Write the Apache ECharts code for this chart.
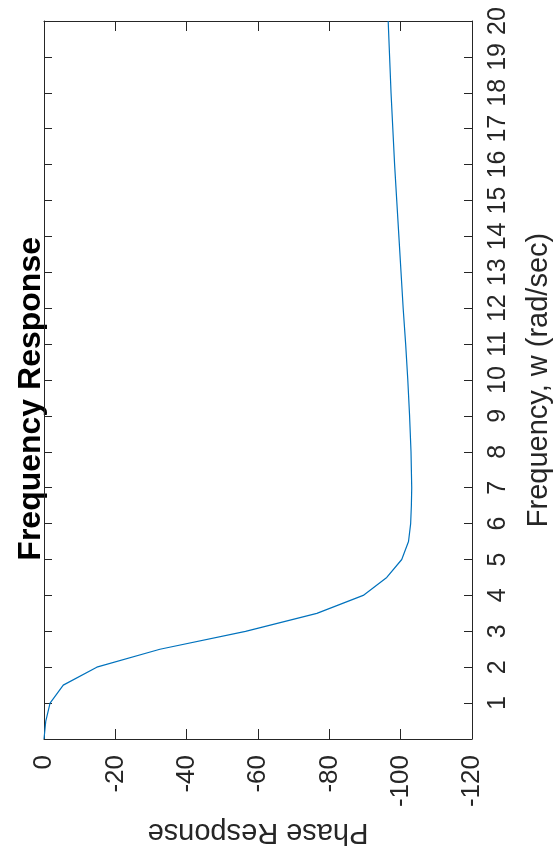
<!DOCTYPE html>
<html>
<head>
<meta charset="utf-8">
<script src="https://cdn.jsdelivr.net/npm/echarts@6/dist/echarts.min.js"></script>
<style>
html,body{margin:0;padding:0;background:#fff;}
#chart{width:557px;height:852px;}
</style>
</head>
<body>
<div id="chart"></div>
<script>
// Frequency w (rad/sec) and phase response values
const freq  = [0, 0.5, 1, 1.5, 2, 2.5, 3, 3.5, 4, 4.5, 5, 5.5, 6, 6.5, 7, 8, 9, 10, 11, 12, 13, 14, 15, 16, 17, 18, 19, 20];
const phase = [0, -0.5, -1.7, -5.4, -14.8, -32.5, -56.5, -76.5, -89.5, -96.1, -100.3, -102.2, -102.8, -103.0, -103.1, -102.9, -102.5, -102.0, -101.4, -100.7, -100.1, -99.5, -98.9, -98.3, -97.8, -97.3, -96.9, -96.5];
const phaseTicks = [0, -20, -40, -60, -80, -100, -120];
const freqTicks = [1, 2, 3, 4, 5, 6, 7, 8, 9, 10, 11, 12, 13, 14, 15, 16, 17, 18, 19, 20];
const titleText = 'Frequency Response';
const xName = 'Phase Response';
const yName = 'Frequency, w (rad/sec)';

const FONT = '"Liberation Sans", Arial, Helvetica, sans-serif';
const AX = '#262626';
const chart = echarts.init(document.getElementById('chart'), null, {renderer: 'canvas'});

const data = freq.map((w, i) => [phase[i], w]);

const axisCommon = {
  type: 'value',
  axisLine: {show: true, onZero: false, lineStyle: {color: AX, width: 1}},
  splitLine: {show: false}
};

chart.setOption({
  backgroundColor: '#ffffff',
  animation: false,
  graphic: [{
    type: 'text',
    left: 15, top: 237,
    rotation: Math.PI / 2,
    style: {
      text: titleText,
      font: 'bold 32px ' + FONT,
      fill: '#000',
      textAlign: 'center',
      textVerticalAlign: 'middle'
    }
  }],
  grid: {left: 44, right: 85, top: 21, bottom: 113, containLabel: false, outerBoundsMode: 'none'},
  xAxis: [
    Object.assign({}, axisCommon, {
      min: phaseTicks[phaseTicks.length - 1], max: phaseTicks[0], interval: 20,
      inverse: true, position: 'bottom',
      axisTick: {show: true, inside: true, length: 10, lineStyle: {color: AX}},
      axisLabel: {show: true, rotate: 90, margin: 16, fontSize: 26, fontFamily: FONT, color: AX,
        formatter: v => phaseTicks.indexOf(v) >= 0 ? String(v) : ''},
      name: xName, nameLocation: 'middle', nameRotate: 180, nameGap: 78,
      nameTextStyle: {fontSize: 29, fontFamily: FONT, color: AX}
    }),
    Object.assign({}, axisCommon, {
      min: phaseTicks[phaseTicks.length - 1], max: phaseTicks[0], interval: 20,
      inverse: true, position: 'top',
      axisTick: {show: true, inside: true, length: 10, lineStyle: {color: AX}},
      axisLabel: {show: false}
    })
  ],
  yAxis: [
    Object.assign({}, axisCommon, {
      min: 0, max: 20, interval: 1, position: 'right',
      axisTick: {show: true, inside: true, length: 8, lineStyle: {color: AX}},
      axisLabel: {show: true, rotate: 90, margin: 14, fontSize: 25, fontFamily: FONT, color: AX,
        formatter: v => freqTicks.indexOf(v) >= 0 ? String(v) : ''},
      name: yName, nameLocation: 'middle', nameRotate: 90, nameGap: 52,
      nameTextStyle: {fontSize: 29, fontFamily: FONT, color: AX}
    }),
    Object.assign({}, axisCommon, {
      min: 0, max: 20, interval: 1, position: 'left',
      axisTick: {show: true, inside: true, length: 8, lineStyle: {color: AX}},
      axisLabel: {show: false}
    })
  ],
  series: [{
    type: 'line',
    xAxisIndex: 0, yAxisIndex: 0,
    data: data,
    showSymbol: false,
    smooth: false,
    lineStyle: {color: '#0072BD', width: 1.2},
    itemStyle: {color: '#0072BD'}
  }]
});
</script>
</body>
</html>
